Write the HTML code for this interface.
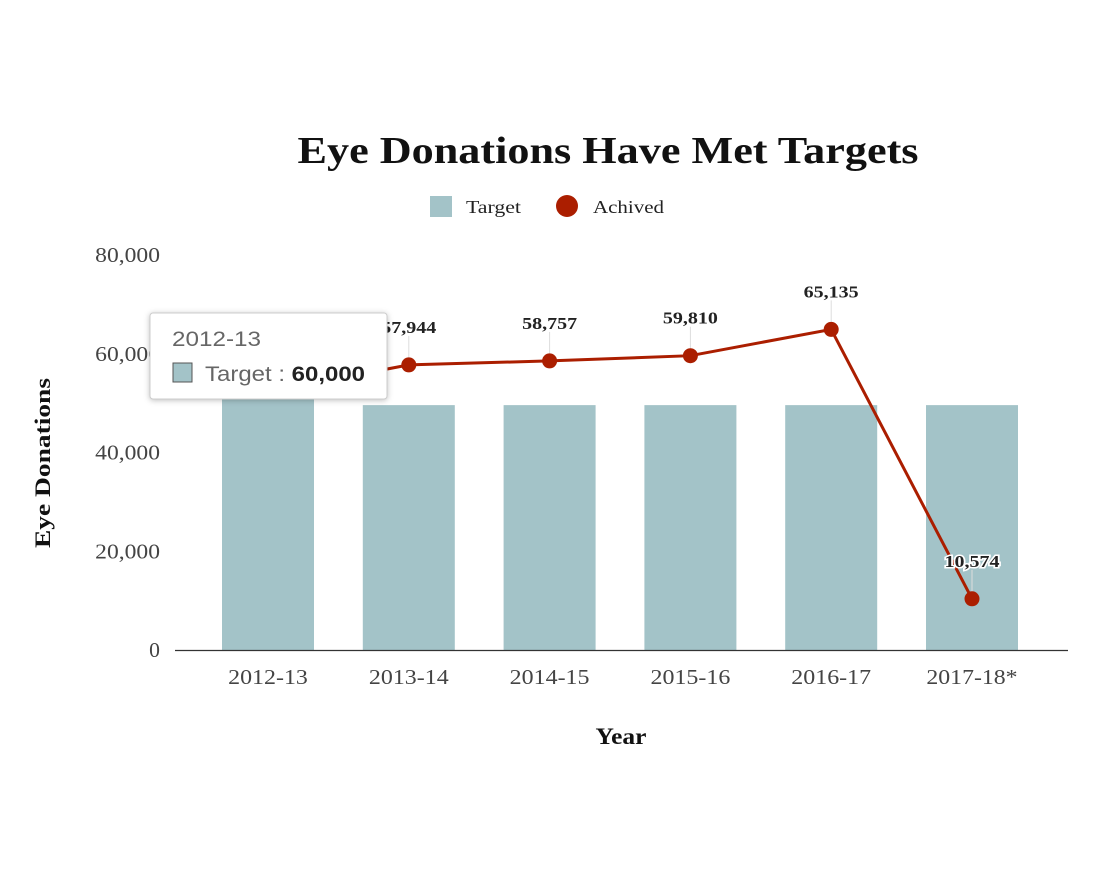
<!DOCTYPE html>
<html><head><meta charset="utf-8"><style>
body{margin:0;background:#fff;}
svg text{font-family:"Liberation Serif",serif;}
</style></head><body>
<svg width="1104" height="883">
<text x="608" y="163" text-anchor="middle" font-size="38" font-weight="bold" fill="#111" textLength="621" lengthAdjust="spacingAndGlyphs">Eye Donations Have Met Targets</text>
<g>
<rect x="430" y="196" width="22" height="21" fill="#a3c3c8"/>
<text x="466" y="213" font-size="18" fill="#222" textLength="55" lengthAdjust="spacingAndGlyphs">Target</text>
<circle cx="567" cy="206" r="11" fill="#ab1e00"/>
<text x="593" y="213" font-size="18" fill="#222" textLength="71" lengthAdjust="spacingAndGlyphs">Achived</text>
</g>
<text transform="translate(50,463) rotate(-90)" text-anchor="middle" font-size="22" font-weight="bold" fill="#111" textLength="170" lengthAdjust="spacingAndGlyphs">Eye Donations</text>
<text x="621" y="744" text-anchor="middle" font-size="23" font-weight="bold" fill="#111" textLength="51" lengthAdjust="spacingAndGlyphs">Year</text>
<g id="plot"></g>
<g>
<rect x="150" y="313" width="237" height="86" rx="3" fill="#fff" stroke="#ccc" style="filter:drop-shadow(0 1px 3px rgba(0,0,0,.25))"/>
<text x="172" y="346" font-size="21" fill="#666" textLength="89" lengthAdjust="spacingAndGlyphs" style="font-family:'Liberation Sans',sans-serif">2012-13</text>
<rect x="173" y="363" width="19" height="19" fill="#a3c3c8" stroke="#555"/>
<text x="205" y="381" font-size="21" fill="#666" textLength="160" lengthAdjust="spacingAndGlyphs" style="font-family:'Liberation Sans',sans-serif">Target : <tspan font-weight="bold" fill="#222">60,000</tspan></text>
</g>
</svg>
<script>
const categories=["2012-13","2013-14","2014-15","2015-16","2016-17","2017-18*"];
const targetValues=[60000,50000,50000,50000,50000,50000];
const achivedValues=[52500,57944,58757,59810,65135,10574];
const yTicks=[0,20000,40000,60000,80000];
const NS="http://www.w3.org/2000/svg";
const g=document.getElementById('plot');
const y=v=>650-v*395/80000;
const x=i=>268+i*140.8;
function mk(t,a,p){const e=document.createElementNS(NS,t);for(const k in a)e.setAttribute(k,a[k]);(p||g).appendChild(e);return e;}
const fmt=v=>v.toLocaleString('en-US');
yTicks.forEach(v=>{const s=fmt(v);const t=mk('text',{x:160,y:y(v)+7,'text-anchor':'end','font-size':21,fill:'#444',textLength:s.length*10.8,lengthAdjust:'spacingAndGlyphs'});t.textContent=s;

});
categories.forEach((c,i)=>{const r=mk('rect',{x:x(i)-46,y:y(targetValues[i])+2,width:92,height:648-y(targetValues[i]),fill:'#a3c3c8'});


const t=mk('text',{x:x(i),y:684,'text-anchor':'middle','font-size':21,fill:'#444',textLength:c.length*11.4,lengthAdjust:'spacingAndGlyphs'});t.textContent=c;

});
const ax=mk('line',{x1:175,x2:1068,y1:650.5,y2:650.5,stroke:'#333','stroke-width':1.3});


const pl=mk('polyline',{points:achivedValues.map((v,i)=>x(i)+','+(y(v)+1)).join(' '),fill:'none',stroke:'#ab1e00','stroke-width':3});


achivedValues.forEach((v,i)=>{
const l=mk('line',{x1:x(i),x2:x(i),y1:y(v)-28,y2:y(v),stroke:'#ddd','stroke-width':1});


const c=mk('circle',{cx:x(i),cy:y(v)+1,r:7.5,fill:'#ab1e00'});


const t=mk('text',{x:x(i),y:y(v)-31,'text-anchor':'middle','font-size':17,'font-weight':'bold',fill:'#222',stroke:'#fff','stroke-width':3,'paint-order':'stroke',textLength:55,lengthAdjust:'spacingAndGlyphs'});t.textContent=fmt(v);


});
</script>
</body></html>
